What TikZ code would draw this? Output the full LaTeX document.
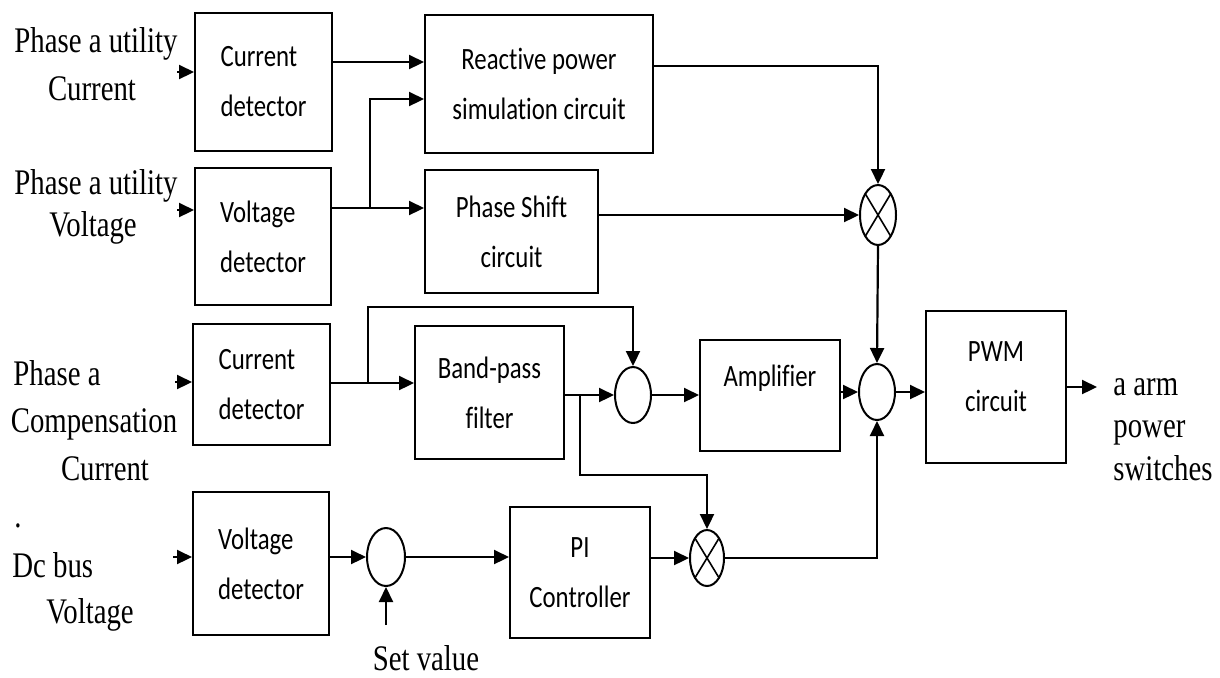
\documentclass[tikz,border=0pt]{standalone}
\usepackage{fontspec}
\usetikzlibrary{shapes.geometric,arrows.meta}
\newfontfamily\tmsf[FakeStretch=0.8]{Liberation Serif}
\newfontfamily\boxff[FakeStretch=0.8,Ligatures=NoCommon]{Carlito}
\newcommand{\lblfont}{\tmsf\fontsize{18}{22}\selectfont}
\newcommand{\blkfont}{\boxff\fontsize{15.5}{25}\selectfont}
\begin{document}
\begin{tikzpicture}[x=0.5pt,y=-0.5pt,
  blk/.style={draw, line width=1pt, inner sep=0pt, font=\blkfont, align=center},
  det/.style={blk, align=left},
  sumc/.style={ellipse, draw, line width=1pt, inner sep=0pt, minimum width=18pt, minimum height=28pt},
  mult/.style={sumc, path picture={\draw[line width=0.8pt] (path picture bounding box.north west) -- (path picture bounding box.south east) (path picture bounding box.north east) -- (path picture bounding box.south west);}},
  lbl/.style={font=\lblfont, inner sep=0pt, anchor=base},
  arr/.style={line width=1.1pt, -{Triangle[length=7.5pt,width=7pt]}}]
\useasboundingbox (0,0) rectangle (1220,677);

% blocks
\node[det, minimum width=68.5pt, minimum height=69pt] (cd1) at (263.5,82) {Current\\detector};
\node[blk, minimum width=114pt, minimum height=69pt] (rps) at (539,84) {Reactive power\\simulation circuit};
\node[det, minimum width=68pt, minimum height=68.5pt] (vd1) at (263,236.5) {Voltage\\detector};
\node[blk, minimum width=86.5pt, minimum height=61.5pt] (ps) at (511.5,231.5) {Phase Shift\\circuit};
\node[det, minimum width=68.5pt, minimum height=60.5pt] (cd2) at (261.5,384.5) {Current\\detector};
\node[blk, minimum width=74.5pt, minimum height=66.5pt] (bp) at (489.5,392.5) {Band-pass\\filter};
\node[blk, minimum width=70pt, minimum height=55.5pt,
      label={[font=\blkfont, yshift=8.5pt]center:Amplifier}] (amp) at (770,395.5) {};
\node[blk, minimum width=70pt, minimum height=76pt,
      label={[font=\blkfont, align=center, yshift=5pt]center:PWM\\circuit}] (pwm) at (996,387) {};
\node[det, minimum width=68pt, minimum height=71.5pt] (vd2) at (261,563.5) {Voltage\\detector};
\node[blk, minimum width=70pt, minimum height=65.5pt] (pi) at (580,572.5) {PI\\Controller};

% summing / multiplying junctions
\node[mult, minimum height=30pt] (m1) at (878,215) {};
\node[sumc] (s2) at (633,395) {};
\node[sumc] (s3) at (877,392) {};
\node[sumc, minimum width=19pt, minimum height=29pt] (s1) at (386,557) {};
\node[mult, minimum width=17pt] (m3) at (707,558) {};

% texts
\node[lbl] (t1a) at (96,52) {Phase a utility};
\node[lbl] (t1b) at (92,100) {Current};
\node[lbl] (t2a) at (96,194) {Phase a utility};
\node[lbl] (t2b) at (93,236) {Voltage};
\node[lbl, anchor=base west] (t3a) at (13,385) {Phase a};
\node[lbl] (t3b) at (94,432) {Compensation};
\node[lbl] (t3c) at (105,480) {Current};
\node[lbl] (t4d) at (18,527) {.};
\node[lbl, anchor=base west] (t4a) at (12,577) {Dc bus};
\node[lbl] (t4b) at (90,623) {Voltage};
\node[lbl] (tsv) at (426,670) {Set value};
\node[lbl, anchor=base west] (to1) at (1113,395) {a arm};
\node[lbl, anchor=base west] (to2) at (1113,437) {power};
\node[lbl, anchor=base west] (to3) at (1113,480) {switches};

% helper coordinates
\coordinate (i1) at (177,72);
\coordinate (i2) at (177,210);
\coordinate (i3) at (175,382);
\coordinate (i4) at (173,557);
\coordinate (h62) at (0,62);
\coordinate (h66) at (0,66);
\coordinate (h99) at (0,99);
\coordinate (h208) at (0,208);
\coordinate (h383) at (0,383);
\coordinate (h387) at (0,387);
\coordinate (k2) at (0,307);
\coordinate (k3) at (0,475);
\coordinate (j1) at (370,208);
\coordinate (j2) at (368,383);
\coordinate (j3) at (580,395);
\coordinate (o1) at (1097,387);
\coordinate (sv) at (386,625);

% connectors
\draw[arr] (i1) -- (cd1.west |- i1);
\draw[arr] (i2) -- (vd1.west |- i2);
\draw[arr] (i3) -- (cd2.west |- i3);
\draw[arr] (i4) -- (vd2.west |- i4);
\draw[arr] (cd1.east |- h62) -- (rps.west |- h62);
\draw[arr] (vd1.east |- h208) -- (ps.west |- h208);
\draw[arr] (j1) |- (rps.west |- h99);
\draw[arr] (rps.east |- h66) -| (m1.north);
\draw[arr] (ps.east |- m1.west) -- (m1.west);
\draw[arr] (m1.south) -- (s3.north);
\draw[arr] (cd2.east |- h383) -- (bp.west |- h383);
\draw[arr] (j2) |- (s2.north |- k2) -- (s2.north);
\draw[arr] (bp.east |- s2.west) -- (s2.west);
\draw[arr] (j3) |- (m3.north |- k3) -- (m3.north);
\draw[arr] (s2.east) -- (amp.west |- s2.east);
\draw[arr] (amp.east |- s3.west) -- (s3.west);
\draw[arr] (s3.east) -- (pwm.west |- s3.east);
\draw[arr] (pwm.east |- h387) -- (o1);
\draw[arr] (vd2.east |- s1.west) -- (s1.west);
\draw[arr] (sv) -- (s1.south);
\draw[arr] (s1.east) -- (pi.west |- s1.east);
\draw[arr] (pi.east |- m3.west) -- (m3.west);
\draw[arr] (m3.east) -| (s3.south);
\end{tikzpicture}
\end{document}
